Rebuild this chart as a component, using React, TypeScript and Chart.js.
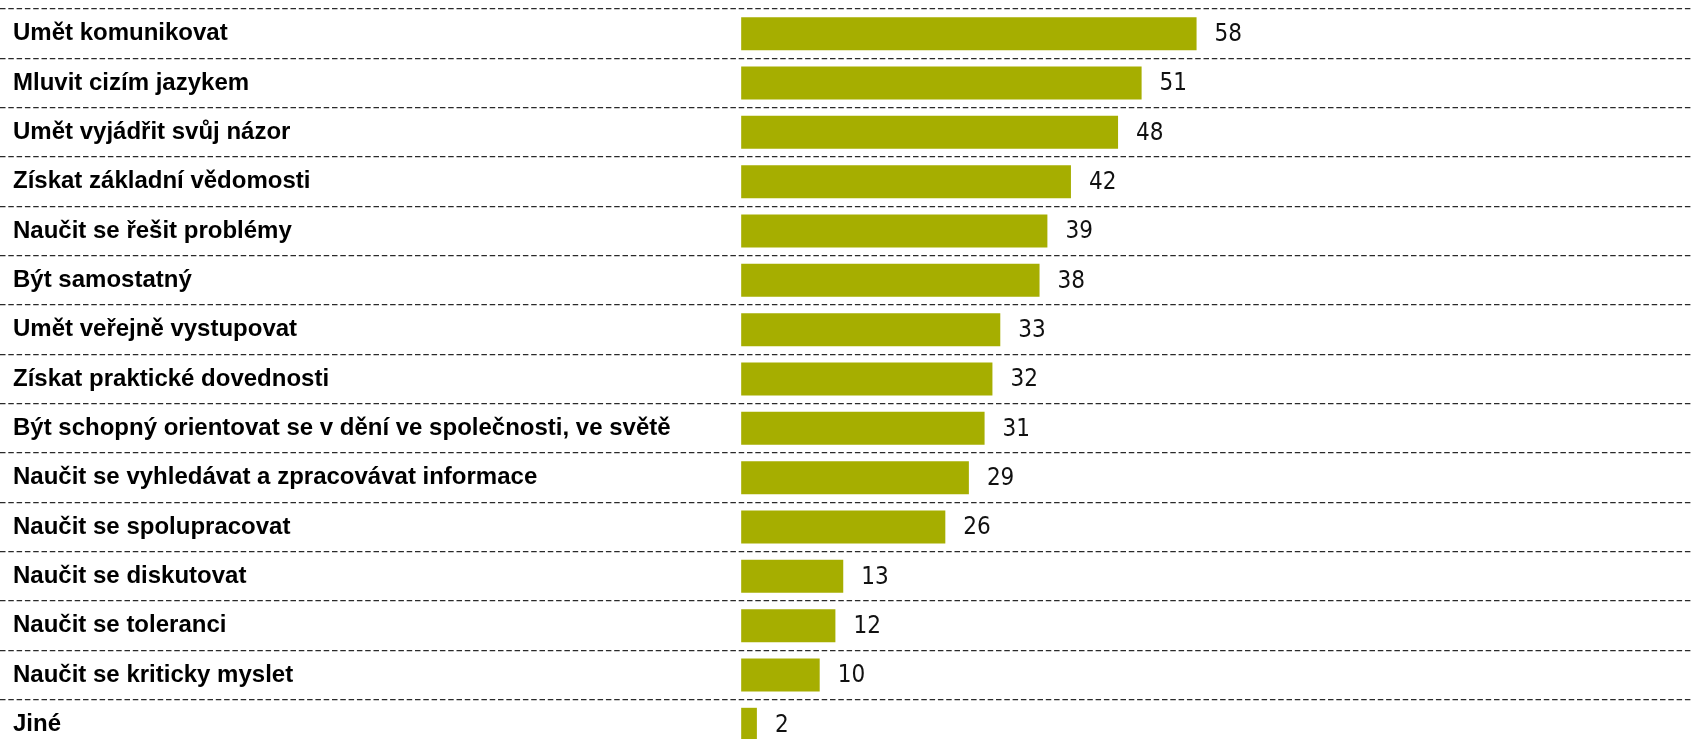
import React, { useEffect, useRef } from "react";
import { Chart, registerables } from "chart.js";

Chart.register(...registerables);

const categories: string[] = [
  "Umět komunikovat",
  "Mluvit cizím jazykem",
  "Umět vyjádřit svůj názor",
  "Získat základní vědomosti",
  "Naučit se řešit problémy",
  "Být samostatný",
  "Umět veřejně vystupovat",
  "Získat praktické dovednosti",
  "Být schopný orientovat se v dění ve společnosti, ve světě",
  "Naučit se vyhledávat a zpracovávat informace",
  "Naučit se spolupracovat",
  "Naučit se diskutovat",
  "Naučit se toleranci",
  "Naučit se kriticky myslet",
  "Jiné",
];

const values: number[] = [58, 51, 48, 42, 39, 38, 33, 32, 31, 29, 26, 13, 12, 10, 2];

const valueLabelsPlugin = {
  id: "valueLabels",
  afterDatasetsDraw(chart: any) {
    const ctx = chart.ctx;
    const meta = chart.getDatasetMeta(0);
    ctx.save();
    ctx.font = "condensed 24px 'DejaVu Sans Condensed', 'DejaVu Sans', sans-serif";
    ctx.fillStyle = "#111111";
    ctx.textAlign = "left";
    ctx.textBaseline = "middle";
    meta.data.forEach((bar: any, i: number) => {
      const v = chart.data.datasets[0].data[i];
      ctx.fillText(String(v), bar.x + 18, bar.y + 1);
    });
    ctx.restore();
  },
};

export default function App() {
  const canvasRef = useRef<HTMLCanvasElement | null>(null);

  useEffect(() => {
    const canvas = canvasRef.current;
    if (!canvas) return;
    const chart = new Chart(canvas, {
      type: "bar",
      data: {
        labels: categories,
        datasets: [
          {
            data: values,
            backgroundColor: "#A6AE00",
            borderWidth: 0,
            categoryPercentage: 1,
            barPercentage: 0.67,
          },
        ],
      },
      options: {
        indexAxis: "y",
        responsive: false,
        animation: false,
        devicePixelRatio: 1,
        layout: { padding: { top: 9, bottom: 0, left: 0, right: 0 } },
        plugins: {
          legend: { display: false },
          tooltip: { enabled: false },
          title: { display: false },
        },
        scales: {
          x: {
            display: false,
            min: -94.4,
            max: 121.1,
          },
          y: {
            position: "left",
            offset: true,
            afterFit: (s: any) => {
              s.width = 0;
              s.paddingTop = 0;
              s.paddingBottom = 0;
              s.paddingLeft = 0;
              s.paddingRight = 0;
            },
            grid: {
              display: true,
              offset: true,
              drawTicks: false,
              color: "#2a2a2a",
              lineWidth: 1.2,
            },
            border: { display: false, dash: [5.5, 2.8] },
            ticks: {
              mirror: true,
              padding: 13,
              color: "#000000",
              font: { family: "'Liberation Sans', Arial, sans-serif", size: 24, weight: "bold" },
            },
          },
        },
      },
      plugins: [valueLabelsPlugin],
    });
    return () => chart.destroy();
  }, []);

  return (
    <div
      style={{
        position: "fixed",
        left: 0,
        top: 0,
        width: 1692,
        height: 739,
        overflow: "hidden",
        background: "#ffffff",
      }}
    >
      <canvas ref={canvasRef} width={1692} height={749} style={{ display: "block", width: 1692, height: 749 }} />
    </div>
  );
}
